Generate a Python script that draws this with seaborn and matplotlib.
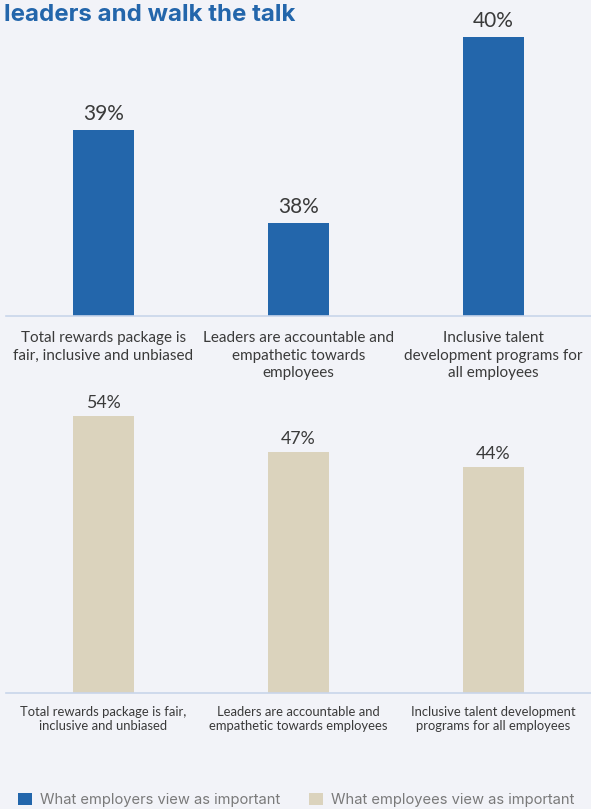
import matplotlib
matplotlib.use("Agg")
import matplotlib.pyplot as plt
from matplotlib.patches import Patch
import seaborn as sns

# Survey results: share of respondents rating each practice as important
employer_labels = [
    "Total rewards package is\nfair, inclusive and unbiased",
    "Leaders are accountable and\nempathetic towards\nemployees",
    "Inclusive talent\ndevelopment programs for\nall employees",
]
employer_values = [39, 38, 40]

employee_labels = [
    "Total rewards package is fair,\ninclusive and unbiased",
    "Leaders are accountable and\nempathetic towards employees",
    "Inclusive talent development\nprograms for all employees",
]
employee_values = [54, 47, 44]

legend_labels = ["What employers view as important", "What employees view as important"]

BG = "#F2F3F8"
BLUE = "#2366AB"
BEIGE = "#DBD3BD"
AXIS = "#C9D5EA"
TEXT = "#3A3A3A"

sns.set_theme(style="white")
plt.rcParams["font.family"] = ["Lato", "DejaVu Sans"]

W, H = 591, 809
fig = plt.figure(figsize=(W / 100, H / 100), dpi=100, facecolor=BG)


def style(ax, values, ymin, ymax, val_fs, lab_fs, lab_pad, val_off, spacing):
    ax.set_xlim(-0.5, len(values) - 0.5)
    ax.set_ylim(ymin, ymax)
    ax.set_xlabel("")
    ax.set_ylabel("")
    ax.set_yticks([])
    for s in ["top", "right", "left"]:
        ax.spines[s].set_visible(False)
    ax.spines["bottom"].set_color(AXIS)
    ax.spines["bottom"].set_linewidth(1.2)
    ax.tick_params(axis="x", which="major", length=0, pad=lab_pad,
                   labelsize=lab_fs, labelcolor=TEXT)
    for t in ax.get_xticklabels():
        t.set_ha("center")
        t.set_linespacing(spacing)
    ax.set_xticks([i - 0.5 for i in range(len(values) + 1)], minor=True)
    ax.tick_params(axis="x", which="minor", length=5, width=1.2, color=AXIS,
                   direction="out")
    for i, v in enumerate(values):
        ax.annotate(f"{v}%", (i, v), xytext=(0, val_off), textcoords="offset points",
                    ha="center", va="bottom", fontsize=val_fs, color=TEXT)


# Top panel: employers (baseline not at zero)
ax1 = fig.add_axes([6 / W, 1 - 316 / H, 585 / W, 316 / H])
ax1.set_facecolor(BG)
sns.barplot(x=employer_labels, y=employer_values, color=BLUE, width=0.315,
            saturation=1, linewidth=0, edgecolor="none", ax=ax1)
style(ax1, employer_values, 37, 37 + 316 / 93, 15, 11, 11, 4, 1.3)

# Bottom panel: employees
ax2 = fig.add_axes([6 / W, 1 - 693 / H, 585 / W, 293 / H])
ax2.set_facecolor(BG)
sns.barplot(x=employee_labels, y=employee_values, color=BEIGE, width=0.315,
            saturation=1, linewidth=0, edgecolor="none", ax=ax2)
style(ax2, employee_values, 0, 293 / 5.13, 12.8, 9.4, 9, 3.5, 1.3)

# Title fragment
fig.text(4 / W, 1 - 21 / H, "leaders and walk the talk", fontsize=17.3,
         fontweight="bold", color=BLUE, family=["Inter", "DejaVu Sans"],
         va="baseline", ha="left")

# Legend
handles = [Patch(facecolor=BLUE, edgecolor="none"), Patch(facecolor=BEIGE, edgecolor="none")]
fig.legend(handles, legend_labels, loc="lower left", bbox_to_anchor=(5 / W, -11 / H),
           ncol=2, frameon=False, handlelength=0.9, handleheight=0.9,
           handletextpad=0.55, columnspacing=2.0, labelcolor="#7A7A7A",
           prop={"family": ["Inter", "DejaVu Sans"], "size": 10.6})

fig.savefig("out.png", dpi=100, facecolor=BG)
